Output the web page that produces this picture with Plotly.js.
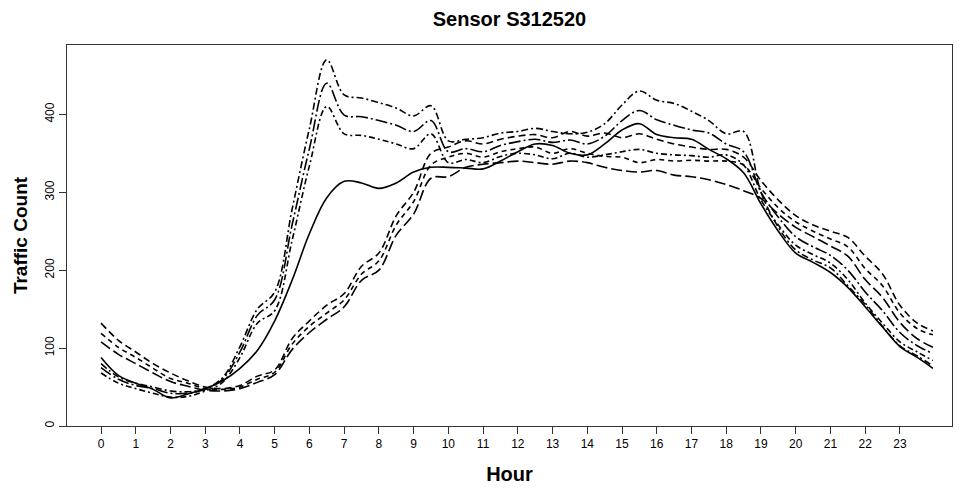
<!DOCTYPE html>
<html>
<head>
<meta charset="utf-8">
<script src="https://cdn.plot.ly/plotly-3.0.1.min.js"></script>
<style>html,body{margin:0;padding:0;background:#fff;}#chart{width:959px;height:488px;}</style>
</head>
<body>
<div id="chart"></div>
<script>
// Hours (half-hour steps, last point just before midnight)
const hours = [0,0.5,1,1.5,2,2.5,3,3.5,4,4.5,5,5.5,6,6.5,7,7.5,8,8.5,9,9.5,10,10.5,11,11.5,12,12.5,13,13.5,14,14.5,15,15.5,16,16.5,17,17.5,18,18.5,19,19.5,20,20.5,21,21.5,22,22.5,23,23.5,23.95];
const hourTicks = [0,1,2,3,4,5,6,7,8,9,10,11,12,13,14,15,16,17,18,19,20,21,22,23];
const yTicks = [0,100,200,300,400];

const seriesSolid = [88,65,55,47,36,41,48,58,74,97,135,187,247,293,314,312,305,312,326,332,332,331,330,340,352,362,360,350,348,362,380,388,374,370,368,355,343,325,285,250,222,210,197,178,153,127,102,88,74];
const seriesU1 = [80,63,55,50,45,44,48,62,102,150,172,278,382,470,425,421,415,408,398,411,366,368,370,376,378,382,378,375,377,388,412,430,418,414,404,392,375,378,300,255,226,213,203,180,156,128,103,90,77];
const seriesU2 = [75,60,52,48,42,42,47,60,95,142,162,258,356,440,399,397,392,386,378,392,352,356,352,360,365,368,364,367,362,372,392,405,393,386,380,376,362,352,300,268,243,230,219,200,172,148,120,103,93];
const seriesU3 = [68,55,48,42,37,38,45,56,88,132,148,238,334,410,375,373,368,362,356,375,338,342,338,346,350,348,343,350,345,348,352,355,350,348,347,345,348,335,290,258,232,220,209,188,158,132,108,95,84];
const seriesL1 = [132,110,95,80,68,58,50,48,52,64,72,112,135,155,170,205,222,270,300,350,358,366,362,368,372,374,370,378,372,376,370,375,368,362,358,355,355,345,315,290,270,258,250,242,218,195,155,132,122];
const seriesL2 = [119,101,88,74,61,55,48,47,50,60,69,105,128,145,162,195,212,258,288,335,345,350,345,352,356,358,350,356,350,346,345,338,342,340,341,340,340,335,305,280,262,250,240,230,202,180,145,125,117];
const seriesL3 = [108,92,80,68,57,51,46,45,48,56,66,98,120,137,153,187,200,245,272,318,320,332,336,338,340,338,336,340,338,332,328,326,328,322,320,316,310,302,292,272,255,243,231,218,188,165,133,112,101];

const styles = [
  {y: seriesL1, dash: '7px,4px'},
  {y: seriesL2, dash: '5px,4px'},
  {y: seriesL3, dash: '11px,4px'},
  {y: seriesU1, dash: '7px,3px,2px,3px'},
  {y: seriesU2, dash: '12px,3px,2px,3px'},
  {y: seriesU3, dash: '6px,3px,2px,3px'},
  {y: seriesSolid, dash: 'solid'}
];

const traces = styles.map(s => ({
  x: hours, y: s.y, type: 'scatter', mode: 'lines',
  line: {color: '#000', width: 1.6, dash: s.dash, shape: 'spline', smoothing: 1},
  hoverinfo: 'skip', showlegend: false
}));

const font = {family: '"Liberation Sans", Arial, Helvetica, sans-serif', color: '#000'};

const layout = {
  width: 959, height: 488,
  margin: {l: 67, r: 7, t: 45, b: 62},
  paper_bgcolor: '#fff', plot_bgcolor: '#fff',
  showlegend: false,
  title: {text: '<b>Sensor S312520</b>', font: Object.assign({}, font, {size: 20}),
          x: 0.5, xref: 'paper', xanchor: 'center', y: 1 - 19/488, yref: 'container', yanchor: 'middle'},
  xaxis: {
    range: [-0.98, 24.5], tickvals: hourTicks, ticktext: hourTicks.map(String),
    showgrid: false, zeroline: false,
    showline: true, mirror: true, linecolor: '#333', linewidth: 1,
    ticks: 'outside', ticklen: 7, tickwidth: 1, tickcolor: '#333',
    tickfont: Object.assign({}, font, {size: 12}),
    title: {text: '<b>Hour</b>', font: Object.assign({}, font, {size: 20}), standoff: 16}
  },
  yaxis: {
    range: [0, 489], tickvals: yTicks, ticktext: yTicks.map(String),
    showgrid: false, zeroline: false,
    showline: true, mirror: true, linecolor: '#333', linewidth: 1,
    ticks: 'outside', ticklen: 7, tickwidth: 1, tickcolor: '#333', tickangle: -90,
    tickfont: Object.assign({}, font, {size: 12}),
    title: {text: '<b>Traffic Count</b>', font: Object.assign({}, font, {size: 19}), standoff: 10}
  }
};

Plotly.newPlot('chart', traces, layout, {staticPlot: true, displayModeBar: false});
</script>
</body>
</html>
